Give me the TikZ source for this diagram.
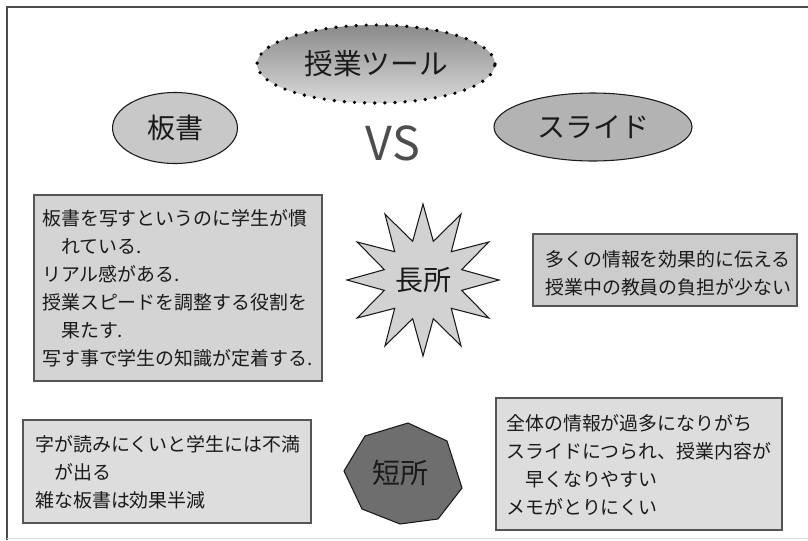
\documentclass[tikz,border=0pt]{standalone}
\usepackage{fontspec}
\setmainfont{Noto Sans CJK JP}
\usetikzlibrary{shapes.geometric}
\definecolor{textc}{HTML}{1A1A1A}
\definecolor{linec}{HTML}{555555}
\definecolor{framec}{HTML}{4A4A4A}
\definecolor{lightc}{HTML}{DDDDDD}
\definecolor{fillA}{HTML}{D4D4D4}
\definecolor{fillB}{HTML}{CCCCCC}
\definecolor{fillC}{HTML}{DDDDDD}
\definecolor{starc}{HTML}{D2D2D2}
\definecolor{bansho}{HTML}{C8C8C8}
\definecolor{slidec}{HTML}{B3B3B3}
\definecolor{octc}{HTML}{6E6E6E}
\definecolor{vsc}{HTML}{4D4D4D}
\definecolor{shtop}{HTML}{8A8A8A}
\definecolor{shbot}{HTML}{DADADA}
\begin{document}
\begin{tikzpicture}[x=0.75pt,y=-0.75pt,
  boxtext/.style={font=\fontsize{14.2pt}{21pt}\selectfont, align=left, anchor=north west, inner sep=0pt, text=textc},
  label/.style={font=\fontsize{21pt}{24pt}\selectfont, text=textc, inner sep=0pt},
  infobox/.style={draw=linec, line width=0.8pt, rectangle, inner sep=0pt},
  oval/.style={draw=textc, line width=0.8pt, ellipse, inner sep=0pt}]
\useasboundingbox (0,0) rectangle (808,540);
% frame
\draw[framec, line width=1.5pt] (6.5,540) -- (6.5,6.5) -- (808,6.5);
\draw[lightc, line width=1pt] (6.5,538.5) -- (808,538.5);
% title
\node[ellipse, minimum width=178.5pt, minimum height=58.5pt, inner sep=0pt,
  top color=shtop, bottom color=shbot, draw=black, line width=2.7pt,
  dash pattern=on 0pt off 7.6pt, line cap=round,
  font=\fontsize{21.5pt}{24pt}\selectfont, text=textc] (tool) at (376,64) {授業ツール};
\node[font=\fontsize{35pt}{36pt}\selectfont, text=vsc, inner sep=0pt] (vs) at (393,143) {VS};
\node[oval, fill=bansho, minimum width=93.75pt, minimum height=53.25pt, label] (bansho) at (175,128) {板書};
\node[oval, fill=slidec, minimum width=148.5pt, minimum height=51pt, label] (slide) at (593,127) {スライド};
% merits
\node[infobox, fill=fillA, minimum width=216pt, minimum height=139.5pt] (mleft) at (178,288) {};
\node[boxtext] (mlefttxt) at (42,209) {板書を写すというのに学生が慣\\　れている.\\リアル感がある.\\授業スピードを調整する役割を\\　果たす.\\写す事で学生の知識が定着する.};
\node[star, star points=12, star point ratio=1.9, minimum size=114pt, inner sep=0pt,
  draw=textc, line width=0.8pt, fill=starc, label] (merit) at (423,280) {長所};
\node[infobox, fill=fillB, minimum width=198pt, minimum height=54pt] (mright) at (665,270) {};
\node[boxtext] (mrighttxt) at (545,250) {多くの情報を効果的に伝える\\授業中の教員の負担が少ない};
% demerits
\node[infobox, fill=fillC, minimum width=216pt, minimum height=77.25pt] (dleft) at (167,471.5) {};
\node[boxtext] (dlefttxt) at (35,435) {字が読みにくいと学生には不満\\　が出る\\雑な板書は効果半減};
\coordinate (oc) at (400,473);
\draw[draw=textc, line width=0.8pt, fill=octc]
  (408,423) -- (447,441) -- (462,488) -- (438,519) -- (400,524) -- (362,509) -- (344,471) -- (365,436) -- cycle;
\node[label] (demerit) at (oc) {短所};
\node[infobox, fill=fillC, minimum width=214.5pt, minimum height=99pt] (dright) at (639,464) {};
\node[boxtext] (drighttxt) at (506,414) {全体の情報が過多になりがち\\スライドにつられ、授業内容が\\　早くなりやすい\\メモがとりにくい};
\end{tikzpicture}
\end{document}
